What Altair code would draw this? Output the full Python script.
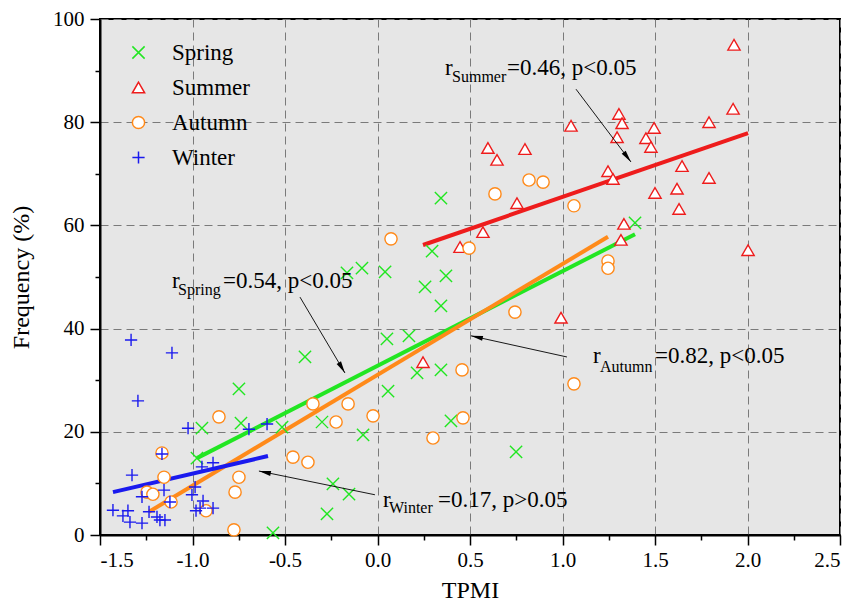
import math
import altair as alt
import pandas as pd

# ---------------- data ----------------
seasons = ["Spring", "Summer", "Autumn", "Winter"]
colors = ["#22e622", "#ee1c1c", "#ff8a1a", "#1a1aee"]
shapes = ["M-1,-1L1,1M-1,1L1,-1", "triangle-up", "circle", "M-1,0L1,0M0,-1L0,1"]

spring_x = [-0.565, -0.949, -0.976, -0.749, -0.738, -0.516, -0.392, -0.300, -0.241, -0.273,
            -0.154, -0.165, -0.084, -0.078, 0.041, 0.051, 0.057, 0.170, 0.214, 0.257,
            0.295, 0.343, 0.343, 0.370, 0.343, 0.397, 0.749, 1.392]
spring_y = [0.4, 20.7, 14.9, 28.3, 21.7, 20.9, 34.5, 21.9, 9.9, 4.1,
            7.9, 50.8, 51.7, 19.4, 51.0, 38.0, 27.9, 38.6, 31.4, 48.1,
            55.0, 65.3, 44.4, 50.2, 32.0, 22.1, 16.1, 60.5]

summer_x = [1.927, 1.922, 1.792, 1.046, 1.305, 1.322, 1.495, 1.295, 1.451, 1.478,
            0.597, 0.797, 0.646, 1.646, 1.246, 1.273, 1.792, 1.619, 1.500, 0.754,
            1.630, 1.332, 0.570, 1.316, 0.446, 2.003, 0.246, 0.992]
summer_y = [95.0, 82.6, 80.0, 79.3, 81.6, 79.8, 78.9, 77.1, 76.9, 75.2,
            75.0, 74.8, 72.7, 71.5, 70.5, 69.0, 69.2, 67.1, 66.3, 64.3,
            63.2, 60.3, 58.7, 57.2, 55.8, 55.2, 33.5, 42.1]

autumn_x = [0.819, 0.895, 0.635, 1.062, 0.495, 1.246, 1.246, 0.073, 0.743, 0.457,
            1.062, -0.349, -0.159, -0.224, -0.024, 0.462, 0.300, -0.857, -1.165, -1.154,
            -0.457, -0.376, -0.749, -0.770, -1.246, -1.214, -1.116, -0.927, -0.776]
autumn_y = [68.8, 68.4, 66.1, 63.8, 55.6, 53.1, 51.7, 57.4, 43.2, 32.0,
            29.3, 25.4, 25.4, 21.9, 23.1, 22.7, 18.8, 22.9, 15.9, 11.2,
            15.1, 14.1, 11.2, 8.3, 8.3, 7.9, 6.4, 4.7, 1.0]

winter_x = [-1.332, -1.111, -1.295, -1.024, -0.695, -0.597, -1.165, -0.889, -0.949, -1.327,
            -0.986, -1.154, -1.273, -1.003, -1.122, -0.943, -1.430, -1.376, -1.349, -1.338,
            -1.273, -1.235, -1.192, -1.176, -1.149, -0.981, -0.959, -0.889]
winter_y = [37.8, 35.3, 26.0, 20.7, 20.5, 21.5, 15.7, 14.0, 13.2, 11.6,
            9.3, 8.7, 7.4, 7.8, 6.4, 6.6, 4.8, 3.7, 4.7, 2.5,
            2.3, 4.5, 3.5, 2.9, 2.9, 4.7, 5.2, 5.2]

# regression line end points (Spring, Summer, Autumn, Winter)
fit_x0 = [-0.976, 0.246, -1.235, -1.430]
fit_y0 = [14.9, 56.2, 4.5, 8.3]
fit_x1 = [1.392, 2.003, 1.246, -0.592]
fit_y1 = [58.3, 77.9, 57.8, 15.3]

# annotations: "r" + subscript + rest
ann_r_x = [-1.111, 0.365, 1.165, 0.030]
ann_base_y = [47.9, 89.1, 33.3, 5.4]
ann_sub_x = [-1.078, 0.403, 1.203, 0.062]
ann_sub_y = [46.5, 87.8, 31.6, 4.3]
ann_main_x = [-0.835, 0.700, 1.500, 0.327]
ann_sub = ["Spring", "Summer", "Autumn", "Winter"]
ann_main = ["=0.54, p<0.05", "=0.46, p<0.05", "=0.82, p<0.05", "=0.17, p>0.05"]

# arrows: start -> tip
arr_x0 = [-0.419, 1.073, 1.024, -0.014]
arr_y0 = [46.1, 86.4, 34.5, 7.8]
arr_x1 = [-0.176, 1.370, 0.505, -0.641]
arr_y1 = [31.4, 72.3, 38.6, 12.4]

x_major = [-1.5, -1.0, -0.5, 0.0, 0.5, 1.0, 1.5, 2.0, 2.5]
x_minor = [-1.25, -0.75, -0.25, 0.25, 0.75, 1.25, 1.75, 2.25]
y_major = [0, 20, 40, 60, 80, 100]
y_minor = [10, 30, 50, 70, 90]

# ---------------- layout ----------------
W, H = 740, 516
FONT = "Liberation Serif"
px_x = W / 4.0
px_y = H / 100.0

xs = alt.Scale(domain=[-1.5, 2.5], nice=False, zero=False)
ys = alt.Scale(domain=[0, 100], nice=False, zero=False)

rows = []
for s, xl, yl in zip(seasons, [spring_x, summer_x, autumn_x, winter_x],
                     [spring_y, summer_y, autumn_y, winter_y]):
    for a, b in zip(xl, yl):
        rows.append({"x": a, "y": b, "season": s})
pts = pd.DataFrame(rows)

fits = pd.DataFrame({"x": fit_x0, "y": fit_y0, "x2": fit_x1, "y2": fit_y1, "col": colors})

texts = []
for i in range(4):
    texts.append({"tx": ann_r_x[i], "ty": ann_base_y[i], "label": "r", "fs": 23})
    texts.append({"tx": ann_sub_x[i], "ty": ann_sub_y[i], "label": ann_sub[i], "fs": 16})
    texts.append({"tx": ann_main_x[i], "ty": ann_base_y[i], "label": ann_main[i], "fs": 23})
txt = pd.DataFrame(texts)

angs = []
for i in range(4):
    dx = (arr_x1[i] - arr_x0[i]) * px_x
    dy = -(arr_y1[i] - arr_y0[i]) * px_y
    angs.append(math.degrees(math.atan2(dx, -dy)) % 360)
arr = pd.DataFrame({"x": arr_x0, "y": arr_y0, "x2": arr_x1, "y2": arr_y1, "ang": angs})

minor_df = pd.DataFrame({"x": [-1.5], "y": [0]})

axis_common = dict(
    domainColor="black", domainWidth=2, tickColor="black", tickWidth=1.5,
    labelFont=FONT, labelFontSize=21, labelColor="black",
    titleFont=FONT, titleFontSize=24, titleFontWeight="normal", titleColor="black",
    gridColor="#7a7a7a", gridDash=[8, 5], gridWidth=1,
)

x_axis = alt.Axis(values=x_major, orient="bottom", grid=True, tickSize=10, labelPadding=4,
                  labelExpr="replace(format(datum.value, '.1f'), '\u2212', '-')",
                  title="TPMI", titlePadding=8, **axis_common)
y_axis = alt.Axis(values=y_major, orient="left", grid=True, tickSize=10, labelPadding=6,
                  labelExpr="replace(format(datum.value, 'd'), '\u2212', '-')",
                  title="Frequency (%)", titlePadding=19, **axis_common)

x_minor_axis = alt.Axis(values=x_minor, orient="bottom", grid=False, tickSize=5, labels=False,
                        domain=False, title=None, tickColor="black", tickWidth=1.5)
y_minor_axis = alt.Axis(values=y_minor, orient="left", grid=False, tickSize=5, labels=False,
                        domain=False, title=None, tickColor="black", tickWidth=1.5)

minor = alt.Chart(minor_df).mark_point(opacity=0).encode(
    x=alt.X("x:Q", scale=xs, axis=x_minor_axis),
    y=alt.Y("y:Q", scale=ys, axis=y_minor_axis),
)

fit_layer = alt.Chart(fits).mark_rule(strokeWidth=4, strokeCap="butt").encode(
    x=alt.X("x:Q", scale=xs, axis=None), y=alt.Y("y:Q", scale=ys, axis=None),
    x2="x2:Q", y2="y2:Q",
    stroke=alt.Stroke("col:N", scale=None),
)

legend = alt.Legend(
    title=None, orient="none", legendX=27, legendY=22, padding=0,
    labelFont=FONT, labelFontSize=23, labelColor="black", labelOffset=22,
    rowPadding=11, symbolSize=150, symbolStrokeWidth=1.5, symbolFillColor="white",
)

points = alt.Chart(pts).mark_point(filled=False, fill="white", fillOpacity=1, size=150,
                                   strokeWidth=1.4, opacity=1).encode(
    x=alt.X("x:Q", scale=xs, axis=x_axis),
    y=alt.Y("y:Q", scale=ys, axis=y_axis),
    color=alt.Color("season:N", scale=alt.Scale(domain=seasons, range=colors), legend=legend),
    shape=alt.Shape("season:N", scale=alt.Scale(domain=seasons, range=shapes), legend=legend),
)

arrow_lines = alt.Chart(arr).mark_rule(color="black", strokeWidth=0.9).encode(
    x=alt.X("x:Q", scale=xs, axis=None), y=alt.Y("y:Q", scale=ys, axis=None),
    x2="x2:Q", y2="y2:Q",
)

arrow_heads = alt.Chart(arr).mark_point(shape="M0,0L-0.42,2L0.42,2Z", filled=True,
                                        color="black", size=144, opacity=1).encode(
    x=alt.X("x2:Q", scale=xs, axis=None), y=alt.Y("y2:Q", scale=ys, axis=None),
    angle=alt.Angle("ang:Q", scale=None),
)

labels = alt.Chart(txt).mark_text(align="left", baseline="alphabetic", font=FONT,
                                  color="black").encode(
    x=alt.X("tx:Q", scale=xs, axis=None), y=alt.Y("ty:Q", scale=ys, axis=None),
    text="label:N",
    size=alt.Size("fs:Q", scale=None),
)

chart = alt.layer(minor, fit_layer, points, arrow_lines, arrow_heads, labels).resolve_axis(
    x="independent", y="independent"
).properties(
    width=W, height=H,
    autosize=alt.AutoSizeParams(type="none"),
    padding={"left": 92, "top": 11, "right": 4, "bottom": 72},
).configure_view(
    fill="#e6e6e6", stroke="black", strokeWidth=2
)

chart.save("out.html", embed_options={"renderer": "svg", "actions": False})
